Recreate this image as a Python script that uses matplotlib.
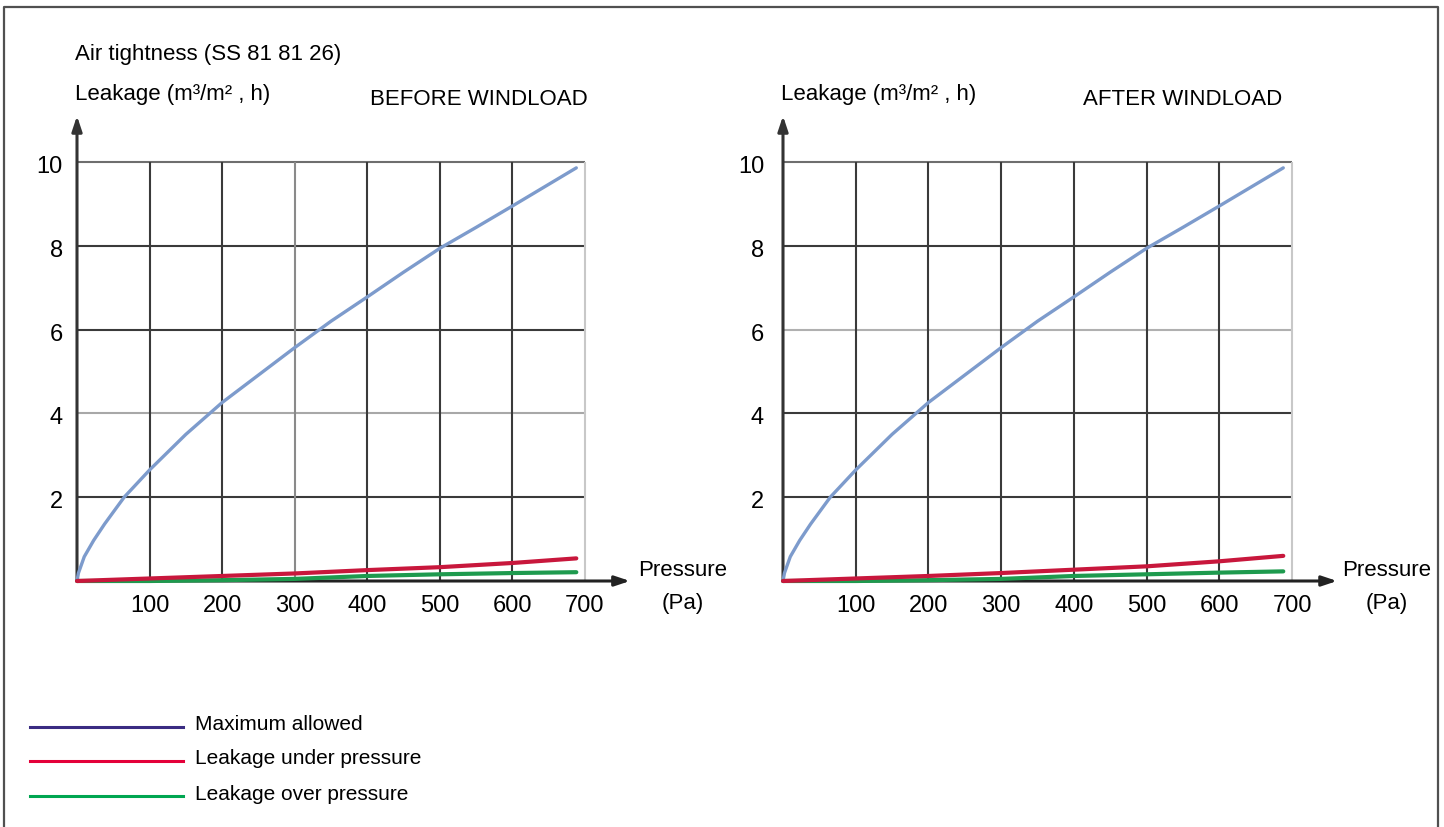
import matplotlib
matplotlib.use("Agg")
import matplotlib.pyplot as plt
from matplotlib.lines import Line2D

plt.rcParams['font.family'] = ['Liberation Sans', 'DejaVu Sans']

# ---------------- data ----------------
pressure_max = [0, 2, 10, 23, 38, 54, 65, 100, 150, 200, 300, 350, 400, 450, 500,
                550, 600, 688]
max_allowed = [0, 0.19, 0.58, 0.97, 1.36, 1.74, 2.0, 2.65, 3.5, 4.26, 5.57, 6.2,
               6.78, 7.37, 7.94, 8.44, 8.95, 9.86]

pressure_leak = [0, 100, 200, 300, 400, 500, 600, 688]
before_under = [0, 0.06, 0.12, 0.18, 0.26, 0.33, 0.43, 0.54]
before_over = [0, 0.0, 0.02, 0.05, 0.12, 0.16, 0.19, 0.21]
after_under = [0, 0.06, 0.12, 0.19, 0.27, 0.35, 0.47, 0.60]
after_over = [0, 0.0, 0.02, 0.05, 0.12, 0.16, 0.20, 0.23]

x_ticks = [100, 200, 300, 400, 500, 600, 700]
y_ticks = [2, 4, 6, 8, 10]
titles = ["BEFORE WINDLOAD", "AFTER WINDLOAD"]
legend_labels = ["Maximum allowed", "Leakage under pressure", "Leakage over pressure"]

# ---------------- style ----------------
W, H = 1444, 827
BLUE = '#7D9BCC'
RED = '#C8173C'
GREEN = '#1E9A4E'
LEG_COLORS = ['#3A2C82', '#E4003A', '#00A651']
GRID = '#3a3a3a'
FS_NUM = 17
FS_TXT = 16

fig = plt.figure(figsize=(W / 100, H / 100), dpi=100)
fig.patch.set_facecolor('white')


def fx(px):
    return px / W


def fy(py):
    return 1 - py / H


# figure frame (left, top, right)
fig.add_artist(Line2D([fx(4), fx(4), fx(1438), fx(1438)],
                      [fy(830), fy(7), fy(7), fy(830)],
                      color='#505050', lw=1.6, transform=fig.transFigure))

panels = [
    dict(left=77, right=585, under=before_under, over=before_over,
         light_h={4: '#a8a8a8', 10: '#6e6e6e'}, light_v={300: '#8a8a8a', 700: '#c8c8c8'},
         title=titles[0], title_x=588, press_x=835, ylab_off=-14),
    dict(left=783, right=1292, under=after_under, over=after_over,
         light_h={6: '#b0b0b0', 10: '#6e6e6e'}, light_v={700: '#c8c8c8'},
         title=titles[1], title_x=1282, press_x=830, ylab_off=-19),
]

y0_px, y10_px = 581, 162

for p in panels:
    ax = fig.add_axes([fx(p['left']), fy(y0_px), fx(p['right'] - p['left']),
                       (y0_px - y10_px) / H])
    ax.set_xlim(0, 700)
    ax.set_ylim(0, 10)
    ax.axis('off')

    # grid
    for yv in y_ticks:
        ax.plot([0, 700], [yv, yv], color=p['light_h'].get(yv, GRID), lw=1.5,
                zorder=1, clip_on=False, solid_capstyle='butt')
    for xv in x_ticks:
        ax.plot([xv, xv], [0, 10], color=p['light_v'].get(xv, GRID), lw=1.5,
                zorder=1, clip_on=False, solid_capstyle='butt')

    # axes with arrows
    ax.annotate('', xy=(762, 0), xytext=(0, 0), xycoords='data',
                arrowprops=dict(arrowstyle='-|>,head_length=0.9,head_width=0.3',
                                color='#222222', lw=2.2, shrinkA=0, shrinkB=0),
                annotation_clip=False, zorder=3)
    ax.annotate('', xy=(0, 11.1), xytext=(0, 0), xycoords='data',
                arrowprops=dict(arrowstyle='-|>,head_length=0.9,head_width=0.3',
                                color='#333333', lw=2.2, shrinkA=0, shrinkB=0),
                annotation_clip=False, zorder=3)

    # curves
    ax.plot(pressure_max, max_allowed, color=BLUE, lw=2.4, zorder=4,
            solid_capstyle='round', solid_joinstyle='round', clip_on=False)
    ax.plot(pressure_leak, p['over'], color=GREEN, lw=3.0, zorder=5,
            solid_capstyle='round', clip_on=False)
    ax.plot(pressure_leak, p['under'], color=RED, lw=3.0, zorder=6,
            solid_capstyle='round', clip_on=False)

    # tick labels
    for xv in x_ticks:
        ax.annotate(str(xv), xy=(xv, 0), xytext=(0, -25), textcoords='offset pixels',
                    ha='center', va='center', fontsize=FS_NUM, annotation_clip=False)
    for yv in y_ticks:
        ax.annotate(str(yv), xy=(0, yv), xytext=(p['ylab_off'], -5),
                    textcoords='offset pixels', ha='right', va='center',
                    fontsize=FS_NUM, annotation_clip=False)

    # axis names
    ax.annotate('Pressure', xy=(p['press_x'], 0), xytext=(0, 10),
                textcoords='offset pixels', ha='center', va='center',
                fontsize=FS_TXT, annotation_clip=False)
    ax.annotate('(Pa)', xy=(p['press_x'], 0), xytext=(0, -23),
                textcoords='offset pixels', ha='center', va='center',
                fontsize=FS_TXT, annotation_clip=False)

    fig.text(fx(p['left'] - 2), fy(100), 'Leakage (m³/m² , h)', fontsize=FS_TXT,
             ha='left', va='baseline')
    fig.text(fx(p['title_x']), fy(105), p['title'], fontsize=FS_TXT,
             ha='right', va='baseline')

fig.text(fx(75), fy(60), 'Air tightness (SS 81 81 26)', fontsize=FS_TXT,
         ha='left', va='baseline')

# legend
for i, (lab, col) in enumerate(zip(legend_labels, LEG_COLORS)):
    yy = [727, 761, 796][i]
    fig.add_artist(Line2D([fx(30), fx(183)], [fy(yy), fy(yy)], color=col, lw=2.2,
                          transform=fig.transFigure))
    fig.text(fx(195), fy(yy - 2), lab, fontsize=15, ha='left', va='center')

fig.savefig('out.png', dpi=100, facecolor='white')
